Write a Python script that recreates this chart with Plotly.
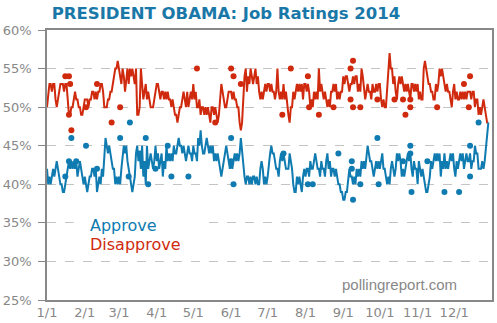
import pandas as pd
import plotly.graph_objects as go

# Daily tracking values (3-day rolling), starting 1 Jan 2014
approve_daily = [
    42, 40, 41, 40, 41, 42, 41, 42, 43, 42, 41, 40, 40, 39, 39, 40, 41, 42, 43, 42,
    43, 42, 43, 42, 43, 41, 42, 43, 42, 41, 40, 41, 40, 39, 40, 41, 41, 42, 42, 41,
    42, 39, 40, 41, 40, 42, 41, 44, 46, 45, 44, 45, 44, 43, 42, 42, 40, 41, 40, 41,
    40, 42, 44, 45, 44, 45, 43, 42, 41, 40, 39, 40, 41, 44, 45, 43, 44, 42, 45, 41,
    43, 40, 45, 42, 43, 44, 43, 42, 43, 45, 43, 44, 42, 43, 44, 41, 43, 42, 45, 43,
    44, 43, 44, 43, 45, 44, 44, 45, 46, 45, 45, 44, 45, 44, 43, 44, 45, 44, 44, 43,
    45, 44, 44, 43, 46, 45, 47, 45, 44, 44, 45, 46, 45, 44, 45, 44, 45, 43, 44, 43,
    44, 43, 42, 41, 42, 43, 44, 45, 44, 43, 42, 43, 42, 43, 44, 43, 44, 43, 44, 46,
    44, 42, 41, 40, 41, 41, 40, 41, 40, 41, 41, 40, 41, 40, 40, 42, 43, 42, 40, 41,
    40, 41, 43, 44, 45, 44, 44, 43, 42, 42, 41, 43, 44, 43, 44, 43, 42, 42, 42, 44,
    43, 42, 40, 39, 39, 41, 40, 41, 40, 39, 41, 42, 41, 42, 42, 41, 43, 42, 42, 43,
    44, 43, 42, 42, 41, 43, 42, 42, 41, 43, 44, 42, 43, 41, 42, 42, 41, 42, 41, 40,
    40, 39, 39, 38, 38, 39, 39, 41, 42, 41, 41, 40, 41, 40, 42, 41, 42, 41, 43, 42,
    43, 42, 44, 45, 44, 43, 43, 42, 41, 42, 43, 42, 43, 42, 43, 44, 42, 42, 41, 40,
    41, 40, 42, 43, 42, 41, 42, 44, 43, 44, 43, 41, 42, 41, 42, 43, 44, 43, 44, 42,
    41, 43, 42, 42, 40, 43, 42, 41, 42, 41, 40, 39, 39, 40, 41, 43, 42, 43, 44, 43,
    44, 43, 44, 41, 43, 42, 44, 42, 43, 42, 43, 44, 43, 44, 42, 41, 43, 42, 43, 44,
    43, 44, 42, 43, 44, 43, 43, 44, 42, 43, 43, 45, 44, 44, 42, 42, 42, 43, 42, 43,
    45, 46, 48,
]

disapprove_daily = [
    50, 52, 53, 53, 52, 53, 53, 51, 50, 51, 52, 53, 53, 53, 52, 53, 53, 51, 49, 49,
    50, 50, 51, 52, 51, 51, 50, 50, 49, 49, 50, 51, 51, 51, 50, 51, 51, 52, 52, 51,
    52, 51, 52, 52, 53, 53, 52, 50, 50, 50, 51, 51, 52, 52, 53, 54, 55, 55, 56, 55,
    54, 53, 55, 54, 52, 54, 55, 53, 55, 54, 55, 54, 53, 55, 49, 49, 50, 55, 53, 51,
    52, 53, 51, 52, 51, 50, 50, 50, 51, 52, 53, 53, 52, 51, 52, 52, 51, 52, 51, 52,
    51, 51, 50, 51, 50, 49, 49, 48, 49, 50, 50, 51, 52, 51, 50, 52, 50, 51, 52, 51,
    53, 51, 52, 50, 50, 51, 49, 50, 50, 49, 50, 49, 50, 49, 48, 50, 50, 49, 50, 49,
    48, 49, 51, 53, 52, 51, 50, 50, 51, 52, 52, 52, 51, 52, 51, 51, 50, 50, 48, 47,
    48, 51, 54, 55, 52, 54, 53, 55, 54, 53, 54, 55, 53, 54, 52, 51, 52, 51, 52, 53,
    52, 53, 53, 52, 53, 52, 52, 51, 52, 55, 52, 51, 52, 51, 53, 51, 52, 50, 49, 48,
    50, 50, 52, 51, 52, 53, 52, 53, 52, 53, 51, 53, 53, 52, 53, 52, 50, 51, 50, 52,
    51, 52, 51, 55, 52, 53, 52, 51, 52, 51, 50, 51, 50, 52, 52, 53, 52, 53, 51, 52,
    51, 52, 52, 54, 53, 54, 54, 53, 52, 53, 53, 54, 53, 54, 54, 52, 53, 52, 55, 54,
    52, 51, 52, 53, 52, 52, 51, 53, 52, 52, 53, 52, 53, 53, 51, 50, 51, 50, 50, 52,
    55, 57, 55, 55, 53, 54, 52, 51, 53, 54, 53, 54, 53, 52, 53, 52, 53, 52, 51, 53,
    53, 52, 53, 52, 53, 51, 52, 51, 51, 55, 56, 55, 54, 53, 53, 52, 52, 51, 51, 53,
    52, 53, 55, 54, 55, 54, 53, 52, 53, 52, 52, 51, 50, 52, 53, 51, 52, 51, 51, 52,
    51, 52, 51, 52, 51, 52, 52, 52, 51, 52, 52, 50, 51, 51, 49, 50, 49, 50, 51, 50,
    49, 48, 48,
]

# Other national polls
approve_poll_dates = [
    "2014-01-16", "2014-01-19", "2014-01-21", "2014-01-25", "2014-02-02", "2014-02-11",
    "2014-03-02", "2014-03-09", "2014-03-10", "2014-03-18", "2014-03-23", "2014-03-25",
    "2014-03-31", "2014-04-10", "2014-04-13", "2014-04-27", "2014-06-01", "2014-06-01",
    "2014-06-03", "2014-07-14", "2014-08-03", "2014-08-07", "2014-08-28", "2014-09-08",
    "2014-09-08", "2014-09-09", "2014-09-15", "2014-09-29", "2014-09-30", "2014-10-20",
    "2014-10-26", "2014-10-26", "2014-10-27", "2014-11-09", "2014-11-23", "2014-12-05",
    "2014-12-14", "2014-12-14", "2014-12-21",
]
approve_poll_values = [
    41, 43, 46, 43, 45, 42,
    46, 41, 48, 44, 46, 40,
    42, 45, 41, 41, 46, 43,
    40, 44, 40, 40, 44, 43,
    42, 38, 40, 46, 40, 43,
    45, 44, 39, 43, 39, 39,
    45, 41, 48,
]

disapprove_poll_dates = [
    "2014-01-16", "2014-01-19", "2014-01-20", "2014-01-19", "2014-01-21", "2014-02-02",
    "2014-02-11", "2014-02-23", "2014-03-02", "2014-05-04", "2014-05-19", "2014-06-01",
    "2014-06-03", "2014-06-09", "2014-07-13", "2014-07-20", "2014-08-03", "2014-08-04",
    "2014-08-12", "2014-08-24", "2014-09-07", "2014-09-09", "2014-09-07", "2014-09-09",
    "2014-09-15", "2014-09-29", "2014-10-13", "2014-10-20", "2014-10-22", "2014-10-26",
    "2014-10-26", "2014-11-17", "2014-12-09", "2014-12-14", "2014-12-13",
]
disapprove_poll_values = [
    54, 54, 53, 49, 47, 50,
    53, 48, 50, 55, 48, 55,
    54, 53, 49, 55, 54, 50,
    49, 50, 55, 56, 51, 50,
    50, 51, 51, 51, 49, 51,
    50, 50, 53, 54, 50,
]

tick_dates = ["2014-%02d-01" % m for m in range(1, 13)]
tick_labels = ["%d/1" % m for m in range(1, 13)]

BLUE = "#0f7bb0"
RED = "#d02a0e"
GREY = "#888888"

approve_x = pd.date_range("2014-01-01", periods=len(approve_daily), freq="D")
disapprove_x = pd.date_range("2014-01-01", periods=len(disapprove_daily), freq="D")

fig = go.Figure()
fig.add_trace(go.Scatter(x=disapprove_x, y=disapprove_daily, mode="lines",
                         line=dict(color=RED, width=2), hoverinfo="skip"))
fig.add_trace(go.Scatter(x=approve_x, y=approve_daily, mode="lines",
                         line=dict(color=BLUE, width=2), hoverinfo="skip"))
fig.add_trace(go.Scatter(x=disapprove_poll_dates, y=disapprove_poll_values, mode="markers",
                         marker=dict(color=RED, size=6, line=dict(width=0))))
fig.add_trace(go.Scatter(x=approve_poll_dates, y=approve_poll_values, mode="markers",
                         marker=dict(color=BLUE, size=6, line=dict(width=0))))

# white panel behind the key text, above the grid
fig.add_shape(type="rect", layer="between", xref="x", yref="y",
              x0="2014-01-23", x1="2014-05-12", y0=30.6, y1=37.4,
              fillcolor="white", line=dict(width=0))

fig.add_annotation(xref="paper", yref="paper", x=0.092, y=0.276, xanchor="left", yanchor="middle",
                   text="Approve", showarrow=False,
                   font=dict(family="DejaVu Sans", size=16, color=BLUE))
fig.add_annotation(xref="paper", yref="paper", x=0.092, y=0.205, xanchor="left", yanchor="middle",
                   text="Disapprove", showarrow=False,
                   font=dict(family="DejaVu Sans", size=16, color=RED))
fig.add_annotation(xref="paper", yref="paper", x=0.925, y=0.058, xanchor="right", yanchor="middle",
                   text="pollingreport.com", showarrow=False,
                   font=dict(family="Liberation Sans", size=15, color=GREY))

fig.update_layout(
    width=497, height=323,
    margin=dict(l=47, r=3, t=30, b=23),
    paper_bgcolor="white", plot_bgcolor="white",
    showlegend=False,
    title=dict(text="<b>PRESIDENT OBAMA: Job Ratings 2014</b>",
               x=226 / 497, xanchor="center", y=1 - 13 / 323, yanchor="middle",
               font=dict(family="DejaVu Sans", size=16.5, color="#1a78a8")),
    font=dict(family="DejaVu Sans", size=13, color=GREY),
)
fig.update_xaxes(
    type="date", range=["2014-01-01", "2015-01-01"],
    tickvals=tick_dates, ticktext=tick_labels, ticks="",
    showgrid=False, showline=True, linecolor=GREY, linewidth=1.5, mirror=True,
    tickfont=dict(family="DejaVu Sans", size=13, color=GREY),
)
fig.update_yaxes(
    range=[25, 60], dtick=5, ticksuffix="%",
    ticks="outside", ticklen=7, tickcolor=GREY, ticklabelstandoff=4,
    showgrid=True, gridcolor="#c4c4c4", griddash="dash", gridwidth=1,
    showline=True, linecolor=GREY, linewidth=1.5, mirror=True, zeroline=False,
    tickfont=dict(family="DejaVu Sans", size=13, color=GREY),
)

fig.write_html("out.html")
